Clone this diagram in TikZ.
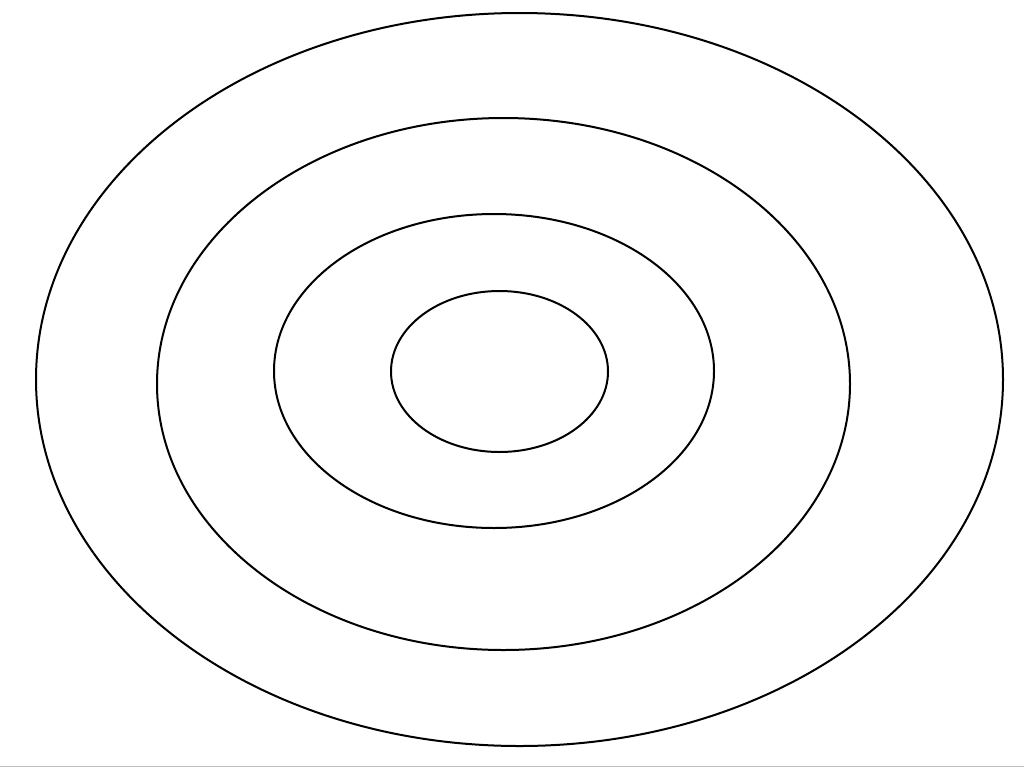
\documentclass[tikz,border=0pt]{standalone}
\begin{document}
\begin{tikzpicture}[x=0.75pt,y=-0.75pt,ring/.style={draw=black,line width=1.5pt}]
\useasboundingbox (0,0) rectangle (1024,768);
\fill[white] (0,0) rectangle (1024,768);
\draw[ring] (519.5,379.5) ellipse [x radius=483.5, y radius=366.5];
\draw[ring] (503.5,384) ellipse [x radius=346.5, y radius=266];
\draw[ring] (494,371) ellipse [x radius=220, y radius=157];
\draw[ring] (499.5,371.5) ellipse [x radius=108.5, y radius=80.5];
\draw[gray!50,line width=1pt] (0,766.5) -- (1024,766.5);
\end{tikzpicture}
\end{document}
